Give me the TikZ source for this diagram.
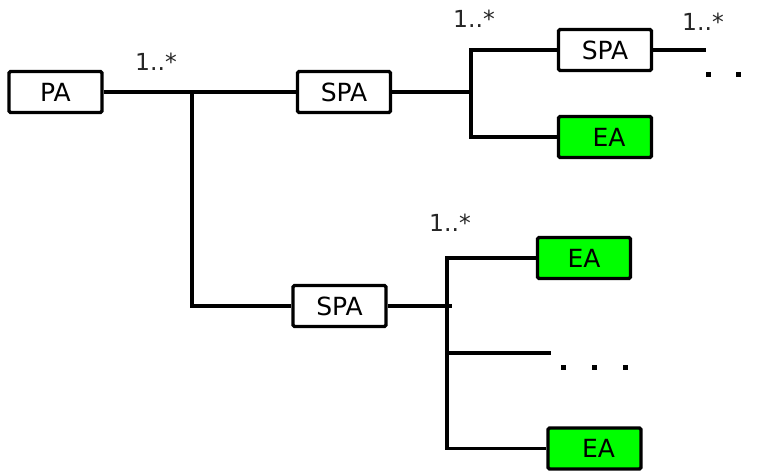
\documentclass[tikz,border=0pt]{standalone}
\usepackage{fontspec}
\setmainfont{DejaVu Sans}
\definecolor{eagreen}{HTML}{00FF00}
\begin{document}
\begin{tikzpicture}[x=1pt,y=-1pt,
  box/.style={draw=black,line width=3.4pt,minimum width=93pt,minimum height=41pt,inner sep=0pt,rounded corners=1.5pt,font=\fontsize{25}{29}\selectfont},
  pabox/.style={box,fill=white},
  eabox/.style={box,fill=eagreen},
  conn/.style={line width=3.4pt},
  mult/.style={font=\fontsize{23.5}{27}\selectfont,inner sep=0pt,text=black!85},
  dot/.style={fill=black,inner sep=0pt,minimum size=5pt}]
\useasboundingbox (0,0) rectangle (766,473);
% boxes
\node[pabox] (pa) at (55.5,92) {PA};
\node[pabox] (spa1) at (344,92) {SPA};
\node[pabox] (spa2) at (605,50) {SPA};
\node[eabox] (ea1) at (605,137) {\hspace*{8pt}EA};
\node[pabox] (spa3) at (339.5,306) {SPA};
\node[eabox] (ea2) at (584,258) {EA};
\node[eabox] (ea3) at (594.5,448.5) {\hspace*{8pt}EA};
% junction coordinates
\coordinate (j1) at (192,92);
\coordinate (j2) at (471,92);
\coordinate (j2t) at (471,50);
\coordinate (e1) at (706,50);
\coordinate (j3) at (452,306);
\coordinate (j3t) at (447,258);
\coordinate (j3m) at (447,353);
\coordinate (e2) at (551,353);
% connectors
\draw[conn] (pa.east) -- (spa1.west);
\draw[conn] (j1) |- (spa3.west);
\draw[conn] (spa1.east) -- (j2);
\draw[conn] (spa2.west) -- (j2t) |- (ea1.west);
\draw[conn] (spa2.east) -- (e1);
\draw[conn] (spa3.east) -- (j3);
\draw[conn] (ea2.west) -- (j3t) |- (ea3.west);
\draw[conn] (j3m) -- (e2);
% multiplicities
\node[mult] (m1) at (156,62) {1..*};
\node[mult] (m2) at (474,19) {1..*};
\node[mult] (m3) at (703,22) {1..*};
\node[mult] (m4) at (450,223) {1..*};
% ellipses
\node[dot] (d1) at (708,75) {};
\node[dot] (d2) at (738,75) {};
\node[dot] (d3) at (768,75) {};
\node[dot] (d4) at (563,367) {};
\node[dot] (d5) at (594,367) {};
\node[dot] (d6) at (625,367) {};
\end{tikzpicture}
\end{document}
